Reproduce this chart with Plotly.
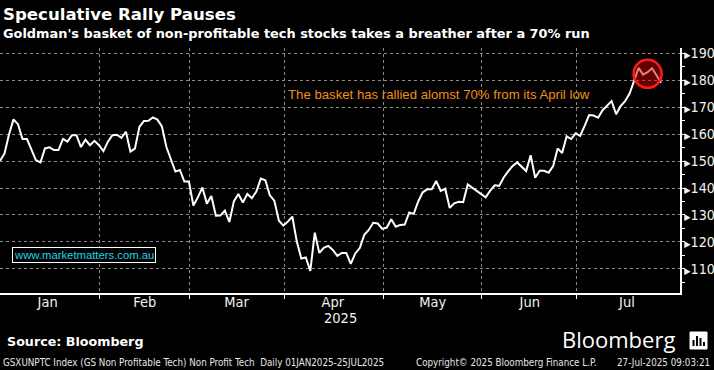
import pandas as pd
import plotly.graph_objects as go

# ---------------- data ----------------
dates = pd.bdate_range("2025-01-01", "2025-07-25")  # weekday slots as plotted by Bloomberg
values = [
    150.1, 152.8, 159.9, 165.5, 163.7, 158.2, 158.2, 154.1, 150.3, 149.5,
    154.7, 155.1, 154.1, 154.1, 158.2, 157.2, 159.6, 159.6, 155.2, 157.9,
    155.9, 157.5, 155.9, 153.7, 157.2, 159.6, 159.8, 158.6, 160.9, 153.5,
    154.6, 162.7, 164.9, 165.0, 166.2, 165.4, 162.9, 155.2, 150.3, 146.1,
    146.7, 142.4, 142.4, 133.5, 136.5, 140.2, 134.2, 137.0, 129.7, 129.8,
    131.6, 127.4, 135.0, 137.8, 134.6, 137.8, 136.2, 138.7, 143.5, 142.9,
    137.3, 135.3, 127.9, 126.0, 127.5, 129.4, 120.1, 113.8, 114.2, 109.2,
    123.4, 115.9, 117.8, 118.5, 117.0, 114.8, 115.9, 115.9, 111.8, 115.7,
    117.7, 122.6, 124.4, 127.1, 126.8, 124.8, 125.3, 128.4, 125.6, 126.3,
    126.4, 130.9, 130.4, 135.0, 138.4, 139.5, 139.5, 142.6, 138.9, 139.7,
    132.6, 134.3, 134.9, 134.7, 141.3, 140.1, 139.1, 137.7, 136.5, 139.0,
    141.0, 140.8, 143.9, 146.2, 148.2, 149.5, 147.9, 146.3, 152.2, 143.8,
    146.4, 146.4, 145.7, 148.1, 154.7, 153.0, 159.2, 158.2, 160.3, 159.4,
    163.1, 167.1, 166.9, 166.1, 168.9, 170.8, 172.3, 167.4, 170.4, 172.3,
    175.1, 179.8, 184.6, 182.1, 183.0, 184.5, 182.0, 179.1,
]

month_labels = ["Jan", "Feb", "Mar", "Apr", "May", "Jun", "Jul"]
month_label_pos = ["2025-01-15 14:00", "2025-02-14 05:00", "2025-03-14 14:00",
                   "2025-04-15 00:00", "2025-05-15 05:00", "2025-06-13 19:00",
                   "2025-07-15 10:00"]
month_separators = ["2025-01-31 02:00", "2025-02-28 02:00", "2025-03-31 04:00",
                    "2025-04-30 04:00", "2025-05-30 04:00", "2025-06-30 02:00"]
y_ticks = [110, 120, 130, 140, 150, 160, 170, 180, 190]

title = "Speculative Rally Pauses"
subtitle = "Goldman's basket of non-profitable tech stocks takes a breather after a 70% run"
note = "The basket has rallied alomst 70% from its April low"
highlight_date = "2025-07-22"
highlight_value = 182.4

# ---------------- layout helpers ----------------
W, H = 714, 370
L, R, T, B = 0, 34, 48, 77
PW, PH = W - L - R, H - T - B


def px(x):
    return (x - L) / PW


def py(y):
    return (H - B - y) / PH


NARROW = "Liberation Sans Narrow, DejaVu Sans Condensed, Arial Narrow, sans-serif"
BOLD = "DejaVu Sans, Verdana, sans-serif"
ARIAL = "Liberation Sans, Arial, sans-serif"
GRID = "#8a8a8a"

fig = go.Figure()
fig.add_trace(go.Scatter(
    x=dates, y=values, mode="lines",
    line=dict(color="white", width=2),
    hoverinfo="skip", showlegend=False,
))

fig.update_layout(
    width=W, height=H,
    margin=dict(l=L, r=R, t=T, b=B, pad=0, autoexpand=False),
    paper_bgcolor="black", plot_bgcolor="black",
    showlegend=False,
    xaxis=dict(
        type="date",
        rangebreaks=[dict(bounds=["sat", "mon"])],
        range=["2025-01-01 00:00", "2025-07-31 05:00"],
        tickmode="array", tickvals=month_label_pos, ticktext=month_labels,
        ticks="", showgrid=False, zeroline=False, ticklabelstandoff=-5,
        showline=True, linecolor="white", linewidth=1.5,
        tickfont=dict(family=NARROW, size=14.5, color="#f2f2f2"),
        minor=dict(tickmode="array", tickvals=month_separators, ticks="outside",
                   ticklen=4, tickcolor="white", tickwidth=1,
                   showgrid=True, gridcolor=GRID, griddash="dot", gridwidth=1),
        fixedrange=True,
    ),
    yaxis=dict(
        side="right", range=[101, 192],
        tickmode="array", tickvals=y_ticks,
        ticktext=["<span style='font-size:9px'>\u25B6</span>" + str(v) for v in y_ticks],
        ticks="", showgrid=True, gridcolor=GRID, griddash="dot", gridwidth=1,
        zeroline=False, showline=True, linecolor="white", linewidth=1.5,
        tickfont=dict(family=NARROW, size=14.2, color="#f2f2f2"),
        minor=dict(dtick=5, tick0=0, ticks="outside", ticklen=3,
                   tickcolor="white", showgrid=False),
        fixedrange=True,
    ),
)

# highlight circle around the recent peak
fig.add_shape(
    type="circle", xref="x", yref="y",
    xsizemode="pixel", ysizemode="pixel",
    xanchor=highlight_date, yanchor=highlight_value,
    x0=-14, x1=14, y0=-14, y1=14,
    fillcolor="rgba(200,0,0,0.5)", line=dict(color="#ff1a1a", width=2.5),
    layer="above",
)

annots = []


def add_text(text, x, y, size, family, color="white", xanchor="left", yanchor="middle", **kw):
    annots.append(dict(text=text, x=px(x), y=py(y), xref="paper", yref="paper",
                       xanchor=xanchor, yanchor=yanchor, showarrow=False,
                       font=dict(family=family, size=size, color=color), **kw))


add_text("<b>" + title + "</b>", 1, 15, 16.6, BOLD)
add_text("<b>" + subtitle + "</b>", 1, 33.5, 12.9, BOLD)
add_text(note, 286, 94, 13.2, ARIAL, color="#f28e1c")
add_text("2025", 340, 318, 14.5, NARROW, color="#f2f2f2", xanchor="center")
add_text("<b>Source: Bloomberg</b>", 5, 341, 12.7, BOLD)
add_text("Bloomberg", 560, 338.5, 22, "Open Sans, Liberation Sans, sans-serif")
add_text("GSXUNPTC Index (GS Non Profitable Tech) Non Profit Tech  Daily 01JAN2025-25JUL2025",
         1, 362, 9.75, NARROW, color="#e6e6e6")
add_text("Copyright\u00a9 2025 Bloomberg Finance L.P.", 414, 362, 9.75, NARROW, color="#e6e6e6")
add_text("27-Jul-2025 09:03:21", 712, 362, 9.75, NARROW, color="#e6e6e6", xanchor="right")
annots.append(dict(text="www.marketmatters.com.au", x=px(84), y=py(255.2), xref="paper", yref="paper",
                   xanchor="center", yanchor="middle", showarrow=False,
                   font=dict(family=ARIAL, size=11.3, color="#22d3e6"),
                   bordercolor="white", borderwidth=1, borderpad=1, bgcolor="black"))
fig.update_layout(annotations=annots)

# Bloomberg terminal-style icon next to the logo
icon = [
    dict(type="rect", x0=px(690), x1=px(707), y0=py(349), y1=py(332),
         fillcolor="white", line=dict(color="white", width=1)),
    dict(type="rect", x0=px(692.5), x1=px(694.5), y0=py(346), y1=py(340),
         fillcolor="black", line=dict(width=0)),
    dict(type="rect", x0=px(696), x1=px(698), y0=py(346), y1=py(336),
         fillcolor="black", line=dict(width=0)),
    dict(type="rect", x0=px(699.5), x1=px(701.5), y0=py(346), y1=py(338),
         fillcolor="black", line=dict(width=0)),
    dict(type="rect", x0=px(703), x1=px(705), y0=py(346), y1=py(342),
         fillcolor="black", line=dict(width=0)),
]
for s in icon:
    fig.add_shape(xref="paper", yref="paper", layer="above", **s)

fig.write_html(
    "out.html",
    config={"displayModeBar": False, "staticPlot": True},
    post_script="document.body.style.margin='0';document.body.style.background='black';",
)
